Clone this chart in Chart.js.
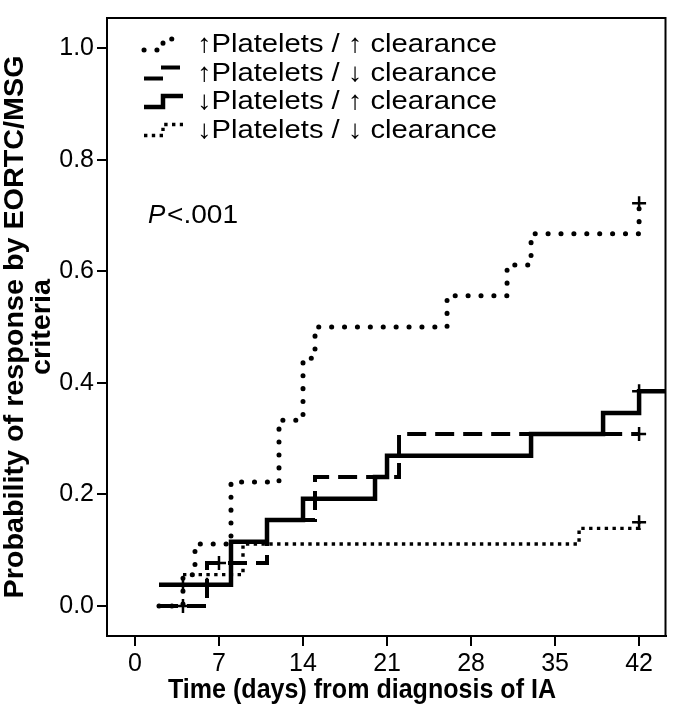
<!DOCTYPE html>
<html>
<head>
<meta charset="utf-8">
<script src="https://cdn.jsdelivr.net/npm/chart.js@4.4.0/dist/chart.umd.min.js"></script>
<style>
    html, body { margin: 0; padding: 0; background: #fff; }
    #wrap { width: 675px; height: 719px; }
</style>
</head>
<body>
<div id="wrap"><canvas id="kmChart" width="675" height="719"></canvas></div>
<script>
// day of each step and the cumulative probability after it
const upUpDays = [2, 4, 5, 8, 12, 14, 15, 26, 31, 33, 42];
const upUpProb = [0, 0.056, 0.111, 0.222, 0.333, 0.444, 0.5, 0.556, 0.611, 0.667, 0.722];

const upDownDays = [2, 6, 11, 15, 22, 42];
const upDownProb = [0, 0.077, 0.154, 0.231, 0.308, 0.308];

const downUpDays = [2, 8, 11, 14, 20, 21, 33, 39, 42, 44.2];
const downUpProb = [0.038, 0.115, 0.154, 0.192, 0.231, 0.269, 0.308, 0.346, 0.385, 0.385];

const downDownDays = [4, 9, 37, 42];
const downDownProb = [0.056, 0.111, 0.139, 0.15];

// censored observations (+)
const upUpCensorDays = [42];
const upUpCensorProb = [0.722];
const upDownCensorDays = [4, 7, 42];
const upDownCensorProb = [0, 0.077, 0.308];
const downUpCensorDays = [4, 6, 15, 42];
const downUpCensorProb = [0.038, 0.038, 0.192, 0.385];
const downDownCensorDays = [42];
const downDownCensorProb = [0.15];

const seriesLabels = [
    '\u2191Platelets / \u2191 clearance',
    '\u2191Platelets / \u2193 clearance',
    '\u2193Platelets / \u2191 clearance',
    '\u2193Platelets / \u2193 clearance'
];

const xTicks = [0, 7, 14, 21, 28, 35, 42];
const yTicks = [0, 0.2, 0.4, 0.6, 0.8, 1.0];

const FONT = '"Liberation Sans", Arial, sans-serif';

// one entry per series, same order as seriesLabels
const lineStyles = [
    { width: 5, dash: [0.1, 12.8], cap: 'round' },
    { width: 4, dash: [19, 9], cap: 'butt' },
    { width: 4.5, dash: [], cap: 'butt' },
    { width: 3.4, dash: [3.4, 4.4], cap: 'butt' }
];

function toPoints(xs, ys) {
    return xs.map(function (x, i) { return { x: x, y: ys[i] }; });
}

function curve(label, xs, ys, style) {
    return {
        label: label,
        data: toPoints(xs, ys),
        showLine: true,
        stepped: true,
        borderColor: '#000',
        borderWidth: style.width,
        borderDash: style.dash,
        borderCapStyle: style.cap,
        pointRadius: 0,
        fill: false
    };
}

function censor(xs, ys) {
    return {
        label: '',
        data: toPoints(xs, ys),
        showLine: false,
        pointStyle: 'cross',
        pointRadius: 7,
        pointBorderWidth: 2.5,
        borderColor: '#000',
        backgroundColor: '#000'
    };
}

// draw text squeezed/stretched horizontally to a given width
function fitText(ctx, text, x, y, width, align) {
    let w = ctx.measureText(text).width;
    ctx.save();
    ctx.translate(x, y);
    ctx.scale(width / w, 1);
    ctx.textAlign = align;
    ctx.fillText(text, 0, 0);
    ctx.restore();
}

const extras = {
    id: 'extras',
    afterDraw: function (chart) {
        const ctx = chart.ctx;
        const a = chart.chartArea;
        ctx.save();

        // box round the plot
        ctx.strokeStyle = '#000';
        ctx.lineWidth = 2;
        ctx.setLineDash([]);
        ctx.strokeRect(a.left, a.top, a.right - a.left, a.bottom - a.top);

        // legend
        ctx.fillStyle = '#000';
        ctx.textBaseline = 'middle';
        ctx.font = '26px ' + FONT;
        for (let i = 0; i < seriesLabels.length; i++) {
            let rowY = 45 + i * 28.5;
            ctx.lineWidth = lineStyles[i].width;
            ctx.lineCap = lineStyles[i].cap;
            ctx.setLineDash(lineStyles[i].dash);
            ctx.beginPath();
            ctx.moveTo(144, rowY + 5);
            ctx.lineTo(163, rowY + 5);
            ctx.lineTo(163, rowY - 6);
            ctx.lineTo(183, rowY - 6);
            ctx.stroke();
            fitText(ctx, seriesLabels[i], 197, rowY, 300, 'left');
        }
        ctx.setLineDash([]);
        ctx.lineCap = 'butt';

        // P value
        ctx.font = 'italic 26px ' + FONT;
        ctx.textAlign = 'left';
        ctx.fillText('P', 148, 216);
        ctx.font = '26px ' + FONT;
        fitText(ctx, '<.001', 167, 216, 71, 'left');

        // x axis title
        ctx.font = 'bold 28px ' + FONT;
        fitText(ctx, 'Time (days) from diagnosis of IA', 362, 690, 388, 'center');

        // y axis title, two lines
        ctx.font = 'bold 27px ' + FONT;
        let line1 = 'Probability of response by EORTC/MSG';
        let sx = 543 / ctx.measureText(line1).width;
        let midY = (a.top + a.bottom) / 2;
        ctx.save();
        ctx.translate(16, midY);
        ctx.rotate(-Math.PI / 2);
        ctx.scale(sx, 1);
        ctx.textAlign = 'center';
        ctx.fillText(line1, 0, 0);
        ctx.restore();
        ctx.save();
        ctx.translate(43, midY);
        ctx.rotate(-Math.PI / 2);
        ctx.scale(sx, 1);
        ctx.textAlign = 'center';
        ctx.fillText('criteria', 0, 0);
        ctx.restore();

        ctx.restore();
    }
};

const config = {
    type: 'scatter',
    data: {
        datasets: [
            curve(seriesLabels[0], upUpDays, upUpProb, lineStyles[0]),
            curve(seriesLabels[1], upDownDays, upDownProb, lineStyles[1]),
            curve(seriesLabels[2], downUpDays, downUpProb, lineStyles[2]),
            curve(seriesLabels[3], downDownDays, downDownProb, lineStyles[3]),
            censor(upUpCensorDays, upUpCensorProb),
            censor(upDownCensorDays, upDownCensorProb),
            censor(downUpCensorDays, downUpCensorProb),
            censor(downDownCensorDays, downDownCensorProb)
        ]
    },
    options: {
        responsive: false,
        animation: false,
        layout: { padding: { top: 3, right: 6, left: 0, bottom: 0 } },
        plugins: {
            legend: { display: false },
            tooltip: { enabled: false }
        },
        scales: {
            x: {
                type: 'linear',
                min: -2.33,
                max: 44.2,
                afterBuildTicks: function (scale) {
                    scale.ticks = xTicks.map(function (v) { return { value: v }; });
                },
                afterFit: function (scale) { scale.height = 83; },
                ticks: {
                    font: { family: FONT, size: 25 },
                    color: '#000',
                    padding: 3,
                    maxRotation: 0,
                    callback: function (value) { return String(value); }
                },
                grid: { drawOnChartArea: false, drawTicks: true, tickLength: 10, color: '#000', lineWidth: 2 },
                border: { display: true, color: '#000', width: 2 }
            },
            y: {
                type: 'linear',
                min: -0.054,
                max: 1.054,
                afterBuildTicks: function (scale) {
                    scale.ticks = yTicks.map(function (v) { return { value: v }; });
                },
                afterFit: function (scale) { scale.width = 107; },
                ticks: {
                    font: { family: FONT, size: 25 },
                    color: '#000',
                    padding: 3,
                    callback: function (value) { return value.toFixed(1); }
                },
                grid: { drawOnChartArea: false, drawTicks: true, tickLength: 10, color: '#000', lineWidth: 2 },
                border: { display: true, color: '#000', width: 2 }
            }
        }
    },
    plugins: [extras]
};

new Chart(document.getElementById('kmChart'), config);
</script>
</body>
</html>
